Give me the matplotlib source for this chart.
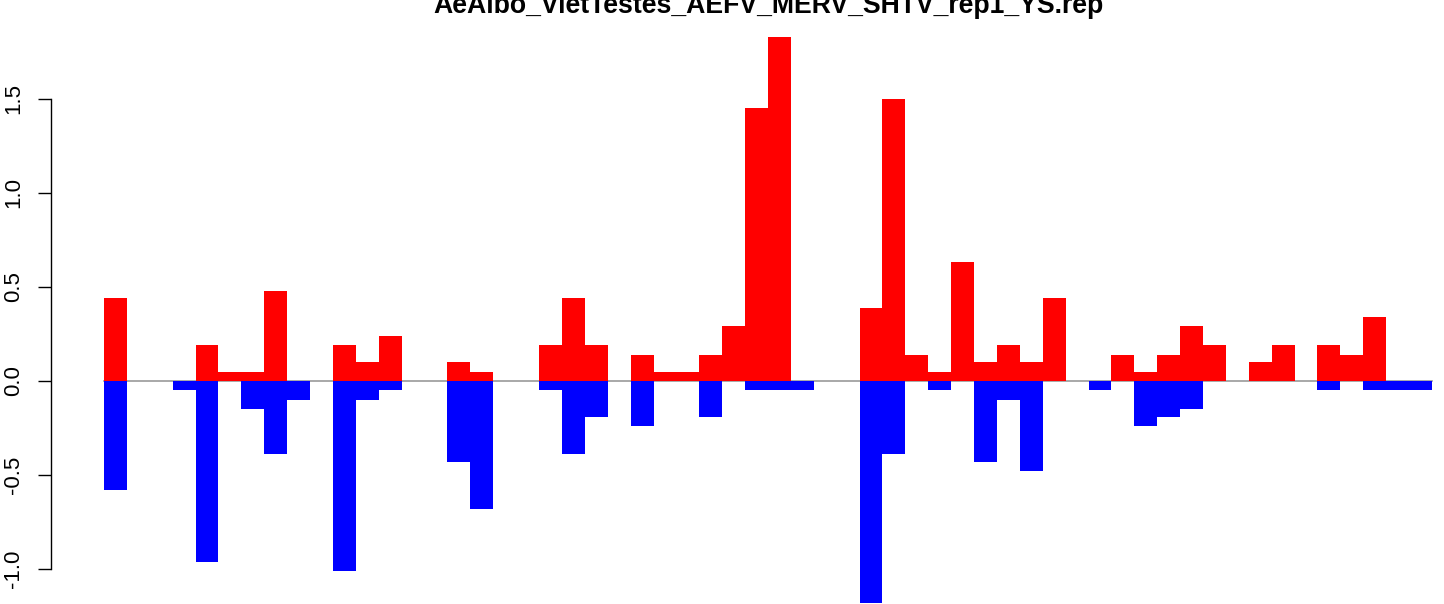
import numpy as np
from matplotlib import pyplot as plt

plt.rcParams['font.family'] = ['Liberation Sans', 'DejaVu Sans']

title = "AeAlbo_VietTestes_AEFV_MERV_SHTV_rep1_YS.rep"

# one bar per position, red above zero and blue below
up = [0.44, 0, 0, 0, 0.19, 0.05, 0.05, 0.48, 0, 0,
      0.19, 0.10, 0.24, 0, 0, 0.10, 0.05, 0, 0, 0.19,
      0.44, 0.19, 0, 0.14, 0.05, 0.05, 0.14, 0.29, 1.45, 1.83,
      0, 0, 0, 0.39, 1.50, 0.14, 0.05, 0.63, 0.10, 0.19,
      0.10, 0.44, 0, 0, 0.14, 0.05, 0.14, 0.29, 0.19, 0,
      0.10, 0.19, 0, 0.19, 0.14, 0.34, 0, 0]
down = [-0.58, 0, 0, -0.05, -0.96, 0, -0.15, -0.39, -0.10, 0,
        -1.01, -0.10, -0.05, 0, 0, -0.43, -0.68, 0, 0, -0.05,
        -0.39, -0.19, 0, -0.24, 0, 0, -0.19, 0, -0.05, -0.05,
        -0.05, 0, 0, -1.18, -0.39, 0, -0.05, 0, -0.43, -0.10,
        -0.48, 0, 0, -0.05, 0, -0.24, -0.19, -0.15, 0, 0,
        0, 0, 0, -0.05, 0, -0.05, -0.05, -0.05]
yticks = [-1.0, -0.5, 0.0, 0.5, 1.0, 1.5]

n = len(up)
x = np.arange(n)

fig = plt.figure(figsize=(14.44, 6.04), dpi=100)
ax = fig.add_axes([0.03525, -0.03593, 0.99321, 1.01275])

# zero line across the bars
ax.plot([0, n], [0, 0], color="#9a9a9a", lw=1.2, zorder=1)
ax.bar(x, up, width=1.0, align="edge", color="#ff0000", linewidth=0, zorder=2)
ax.bar(x, down, width=1.0, align="edge", color="#0000ff", linewidth=0, zorder=2)

ax.set_xlim(-0.04 * n, n * 1.04)
ax.set_ylim(-1.30, 1.95)

for s in ["top", "right", "bottom"]:
    ax.spines[s].set_visible(False)
ax.spines["left"].set_bounds(-1.0, 1.5)
ax.spines["left"].set_linewidth(1.0)
ax.set_xticks([])
ax.set_yticks(yticks)
ax.set_yticklabels(["%.1f" % v for v in yticks], rotation=90, va="center",
                   fontsize=16)
ax.tick_params(axis="y", length=9.4, width=1.0, pad=10)

fig.text(0.5319, 0.9785, title, ha="center", va="baseline",
         fontsize=19.2, fontweight="bold")

fig.savefig("out.png", dpi=100)
